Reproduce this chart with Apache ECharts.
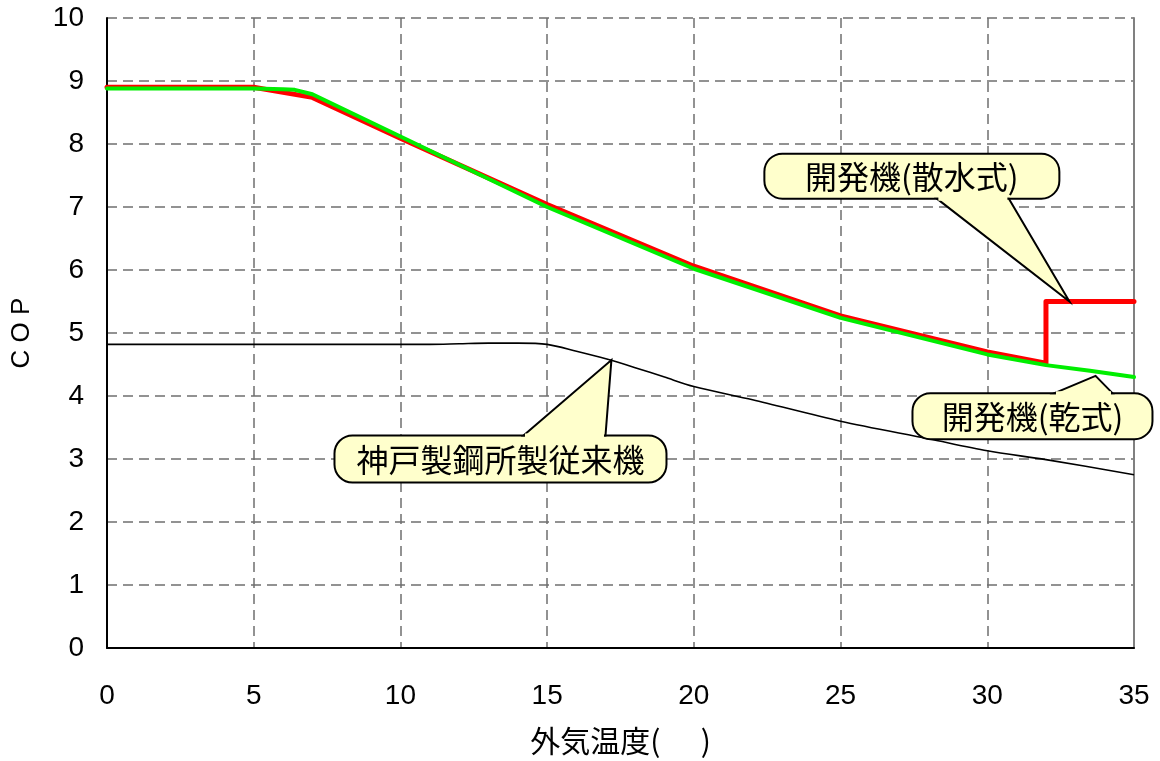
<!DOCTYPE html>
<html>
<head>
<meta charset="utf-8">
<script src="https://cdn.jsdelivr.net/npm/echarts@6/dist/echarts.min.js"></script>
<style>
html,body{margin:0;padding:0;background:#fff;}
#chart{width:1160px;height:761px;}
</style>
</head>
<body>
<div id="chart"></div>
<script>
// ---- data ----
var xTicks = [0, 5, 10, 15, 20, 25, 30, 35];
var yTicks = [0, 1, 2, 3, 4, 5, 6, 7, 8, 9, 10];

var conventionalX = [0, 5, 10, 11, 12, 13, 14, 15, 16, 17, 18, 19, 20, 22, 25, 28, 30, 32, 35];
var conventionalY = [4.82, 4.82, 4.82, 4.82, 4.83, 4.84, 4.84, 4.82, 4.71, 4.59, 4.45, 4.30, 4.15, 3.94, 3.60, 3.32, 3.13, 2.99, 2.75];

var sprinkleX = [0, 5, 6, 7, 10, 15, 20, 25, 30, 32, 32, 35];
var sprinkleY = [8.90, 8.90, 8.82, 8.74, 8.09, 7.04, 6.06, 5.27, 4.70, 4.52, 5.50, 5.50];

var dryX = [0, 5, 6, 6.4, 7, 10, 15, 20, 25, 30, 32, 33.5, 35];
var dryY = [8.88, 8.88, 8.87, 8.86, 8.79, 8.12, 7.00, 6.02, 5.24, 4.66, 4.49, 4.40, 4.30];

var labelSprinkle = '開発機(散水式)';
var labelDry = '開発機(乾式)';
var labelConventional = '神戸製鋼所製従来機';
var xName = '外気温度(      )';
var yName = 'C O P';

function pairs(xs, ys) { return xs.map(function (x, i) { return [x, ys[i]]; }); }

// ---- callout layout (annotation placement, not data) ----
var callouts = [
  { text: labelSprinkle, tip: [32.8, 5.5], center: [27.43, 7.49], w: 295, h: 45, side: 'bottom', base: [25, 97] },
  { text: labelDry, tip: [33.69, 4.32], center: [31.54, 3.68], w: 240, h: 46, side: 'top', base: [22, 80] },
  { text: labelConventional, tip: [17.19, 4.57], center: [13.41, 3.0], w: 332, h: 47, side: 'top', base: [23, 105] }
];

var chart = echarts.init(document.getElementById('chart'));
var gridColor = '#6f6f6f';
var option = {
  animation: false,
  backgroundColor: '#ffffff',
  grid: { left: 107, right: 26, top: 18, bottom: 110, containLabel: false },
  xAxis: {
    type: 'value', min: 0, max: 35, interval: 5,
    name: xName, nameLocation: 'middle', nameGap: 78,
    nameTextStyle: { fontSize: 30, color: '#000', fontFamily: 'Noto Sans CJK JP' },
    axisLine: { show: true, lineStyle: { color: '#000', width: 2 } },
    axisTick: { show: false },
    axisLabel: { fontSize: 28, color: '#000', margin: 34, fontFamily: 'Liberation Sans',
      formatter: function (v) { return xTicks.indexOf(v) >= 0 ? String(v) : ''; } },
    splitLine: { show: true, lineStyle: { color: gridColor, type: [10, 6], width: 1.5 } }
  },
  yAxis: [{
    type: 'value', min: 0, max: 10, interval: 1,
    name: yName, nameLocation: 'middle', nameGap: 72, nameRotate: 90,
    nameTextStyle: { fontSize: 26, color: '#000', fontFamily: 'Liberation Sans' },
    axisLine: { show: true, lineStyle: { color: '#000', width: 2 } },
    axisTick: { show: false },
    axisLabel: { fontSize: 28, color: '#000', margin: 23, fontFamily: 'Liberation Sans',
      formatter: function (v) { return yTicks.indexOf(v) >= 0 ? String(v) : ''; } },
    splitLine: { show: true, lineStyle: { color: gridColor, type: [10, 6], width: 1.5 } }
  }, {
    type: 'value', min: 0, max: 10, interval: 1, position: 'right',
    axisLine: { show: true, lineStyle: { color: '#808080', width: 2 } },
    axisTick: { show: false }, axisLabel: { show: false }, splitLine: { show: false }
  }],
  series: [
    { type: 'line', data: pairs(conventionalX, conventionalY), symbol: 'none', smooth: 0.3,
      lineStyle: { color: '#000', width: 1.6 }, z: 2 },
    { type: 'line', data: pairs(sprinkleX, sprinkleY), symbol: 'none',
      lineStyle: { color: '#ff0000', width: 5, cap: 'round', join: 'round' }, z: 3 },
    { type: 'line', data: pairs(dryX, dryY), symbol: 'none',
      lineStyle: { color: '#00ee00', width: 4, cap: 'round', join: 'round' }, z: 4 }
  ]
};
chart.setOption(option);

function buildGraphics() {
  var els = [];
  callouts.forEach(function (c) {
    var tip = chart.convertToPixel({ gridIndex: 0 }, c.tip);
    var ctr = chart.convertToPixel({ gridIndex: 0 }, c.center);
    var l = ctr[0] - c.w / 2, t = ctr[1] - c.h / 2;
    var edgeY = c.side === 'top' ? t : t + c.h;
    var b1 = [ctr[0] + c.base[0], edgeY], b2 = [ctr[0] + c.base[1], edgeY];
    els.push({ type: 'rect', shape: { x: l, y: t, width: c.w, height: c.h, r: 18 },
      style: { fill: '#ffffcc', stroke: '#000', lineWidth: 2 }, z: 100 });
    els.push({ type: 'polygon', shape: { points: [b1, tip, b2] },
      style: { fill: '#ffffcc', stroke: '#000', lineWidth: 2 }, z: 101 });
    els.push({ type: 'line', shape: { x1: b1[0] + 1.5, y1: edgeY, x2: b2[0] - 1.5, y2: edgeY },
      style: { stroke: '#ffffcc', lineWidth: 4 }, z: 102 });
    els.push({ type: 'text', x: ctr[0], y: ctr[1] + 1,
      style: { text: c.text, fill: '#000', fontSize: 32, fontFamily: 'Noto Sans CJK JP',
        align: 'center', verticalAlign: 'middle' }, z: 103 });
  });
  chart.setOption({ graphic: { elements: els } });
}
buildGraphics();
</script>
</body>
</html>
